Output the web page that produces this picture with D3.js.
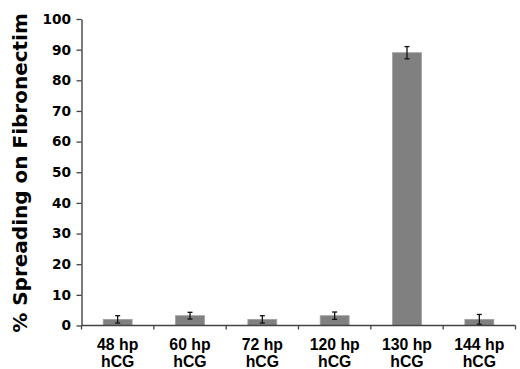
<!DOCTYPE html>
<html><head><meta charset="utf-8">
<script src="https://cdn.jsdelivr.net/npm/d3@7"></script>
<style>body{margin:0;background:#fff}svg{display:block}text{font-family:"Liberation Sans",Arial,sans-serif;font-weight:bold}</style>
</head><body>
<svg id="c" width="520" height="369"></svg>
<script>
const categories = ["48 hp|hCG","60 hp|hCG","72 hp|hCG","120 hp|hCG","130 hp|hCG","144 hp|hCG"];
const values = [2, 3.2, 2, 3.2, 89, 2];
const errors = [1.2, 1.1, 1.2, 1.2, 2, 1.6];
const yTicks = [0,10,20,30,40,50,60,70,80,90,100];
const yTitle = "% Spreading on Fibronectim";

(function(){
const svg = d3.select("#c");
const mLeft = 81.5, mRight = 515.5, mTop = 19, mBottom = 325.5;
const x = d3.scaleBand().domain(categories).range([mLeft, mRight]).paddingInner(0.6).paddingOuter(0.3);
const y = d3.scaleLinear().domain([0,100]).range([mBottom, mTop]);

// bars
svg.selectAll("rect.bar").data(categories).enter().append("rect")
  .attr("x", d => x(d)).attr("width", x.bandwidth())
  .attr("y", (d,i) => y(values[i])).attr("height", (d,i) => y(0) - y(values[i]))
  .attr("fill", "#808080").attr("stroke", "#a0a0a0").attr("stroke-width", 0.8);

// error bars
const eg = svg.append("g").attr("stroke", "#111").attr("stroke-width", 1.3);
categories.forEach((d,i) => {
  const cx = x(d) + x.bandwidth()/2;
  eg.append("line").attr("x1", cx).attr("x2", cx).attr("y1", y(values[i]-errors[i])).attr("y2", y(values[i]+errors[i]));
  eg.append("line").attr("x1", cx-2.5).attr("x2", cx+2.5).attr("y1", y(values[i]-errors[i])).attr("y2", y(values[i]-errors[i]));
  eg.append("line").attr("x1", cx-2.5).attr("x2", cx+2.5).attr("y1", y(values[i]+errors[i])).attr("y2", y(values[i]+errors[i]));
});

// y axis
const ya = svg.append("g").attr("transform", `translate(${mLeft},0)`)
  .call(d3.axisLeft(y).tickValues(yTicks).tickSize(5).tickPadding(5.5).tickSizeOuter(0));
ya.attr("font-family", null).attr("font-size", null);
ya.select(".domain").attr("stroke", "#444").attr("stroke-width", 1.4);
ya.selectAll(".tick line").attr("stroke", "#444").attr("stroke-width", 1.3);
ya.selectAll(".tick text").style("font-family", "'DejaVu Sans', sans-serif").style("font-size", "13.7px").style("font-weight", "bold").attr("fill", "#000");

// x axis
const xa = svg.append("g").attr("transform", `translate(0,${mBottom})`);
xa.append("line").attr("x1", mLeft).attr("x2", mRight).attr("stroke", "#444").attr("stroke-width", 1.4);
const step = x.step();
const bounds = categories.map((d,i) => x(d) - (step - x.bandwidth())/2).concat([mRight]);
xa.selectAll("line.t").data(bounds).enter().append("line")
  .attr("x1", d => d).attr("x2", d => d).attr("y1", 0).attr("y2", 4)
  .attr("stroke", "#444").attr("stroke-width", 1.3);
categories.forEach(d => {
  const parts = d.split("|");
  const t = xa.append("text").attr("text-anchor", "middle").style("font-size", "15.8px").attr("fill", "#000")
    .attr("x", x(d) + x.bandwidth()/2);
  t.append("tspan").attr("x", x(d) + x.bandwidth()/2).attr("y", 24).text(parts[0]);
  t.append("tspan").attr("x", x(d) + x.bandwidth()/2).attr("y", 41.3).text(parts[1]);
});

// y title
svg.append("text").attr("transform", "translate(26.7,173) rotate(-90)")
  .attr("text-anchor", "middle").style("font-family", "'DejaVu Sans', sans-serif").style("font-size", "20px").attr("fill", "#000").text(yTitle);
})();
</script>
</body></html>
